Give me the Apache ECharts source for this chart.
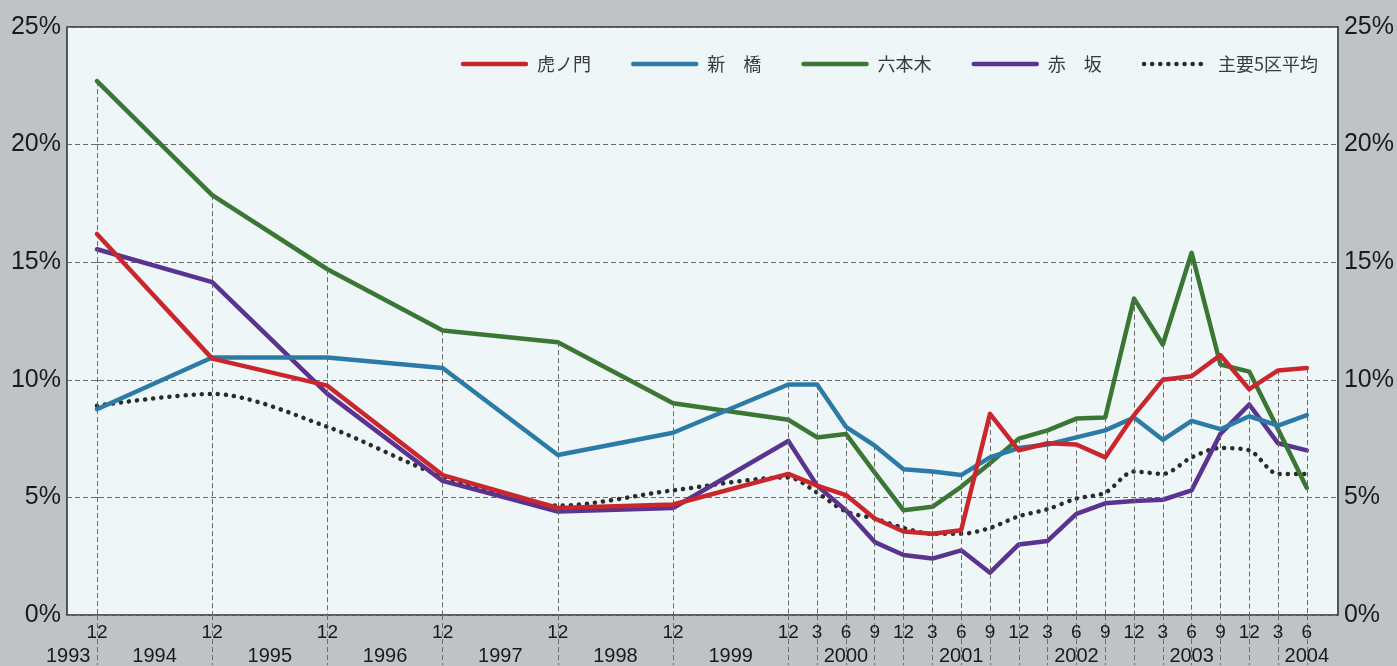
<!DOCTYPE html>
<html>
<head>
<meta charset="utf-8">
<script src="https://cdn.jsdelivr.net/npm/echarts@6/dist/echarts.min.js"></script>
<style>
  html, body { margin: 0; padding: 0; background: #bfc3c6; }
  #chart { width: 1397px; height: 666px; }
</style>
</head>
<body>
<div id="chart"></div>
<script>
// Survey dates: yearly until 1999-12, quarterly afterwards
const dates = ['1993-12','1994-12','1995-12','1996-12','1997-12','1998-12','1999-12',
  '2000-3','2000-6','2000-9','2000-12','2001-3','2001-6','2001-9','2001-12',
  '2002-3','2002-6','2002-9','2002-12','2003-3','2003-6','2003-9','2003-12',
  '2004-3','2004-6'];

// Vacancy rates (%)
const toranomon = [16.2, 10.9, 9.75, 5.95, 4.55, 4.7, 6.0, 5.5, 5.1, 4.1, 3.55, 3.45, 3.6, 8.55, 7.0,
  7.3, 7.25, 6.7, 8.5, 10.0, 10.15, 11.05, 9.6, 10.4, 10.5];
const shimbashi = [8.75, 10.95, 10.95, 10.5, 6.8, 7.75, 9.8, 9.8, 8.0, 7.2, 6.2, 6.1, 5.95, 6.7, 7.1,
  7.25, 7.55, 7.85, 8.4, 7.45, 8.25, 7.9, 8.45, 8.05, 8.5];
const roppongi = [22.7, 17.85, 14.7, 12.1, 11.6, 9.0, 8.3, 7.55, 7.7, 6.05, 4.45, 4.6, 5.45, 6.45, 7.5,
  7.85, 8.35, 8.4, 13.45, 11.5, 15.4, 10.65, 10.35, 7.9, 5.4];
const akasaka = [15.55, 14.15, 9.4, 5.7, 4.4, 4.55, 7.4, 5.5, 4.45, 3.1, 2.55, 2.4, 2.75, 1.8, 3.0,
  3.15, 4.3, 4.75, 4.85, 4.9, 5.3, 7.7, 8.95, 7.3, 7.0];
const average5 = [8.9, 9.4, 8.0, 5.9, 4.65, 5.3, 5.85, 5.2, 4.4, 4.1, 3.7, 3.45, 3.45, 3.7, 4.2,
  4.5, 4.95, 5.2, 6.1, 6.0, 6.7, 7.1, 7.0, 6.0, 6.0];

const years = [1993, 1994, 1995, 1996, 1997, 1998, 1999, 2000, 2001, 2002, 2003, 2004];

// position of a date on the quarter scale (0 = 1993-12)
function qIndex(d) {
  const p = d.split('-').map(Number);
  return (p[0] - 1993) * 4 + (p[1] - 12) / 3;
}
const xs = dates.map(qIndex);
const monthAt = {};
dates.forEach(function (d, i) { monthAt[xs[i]] = d.split('-')[1]; });

// year captions sit under June of each year (1993 squeezed in at the left edge)
const yearPos = years.map(function (y) { return Math.max((y - 1993) * 4 - 2, -1); });
const yearAt = {};
years.forEach(function (y, i) { yearAt[yearPos[i]] = String(y); });

// dashed drop line from the highest value at each survey date down to the axis
const allSeries = [toranomon, shimbashi, roppongi, akasaka, average5];
const dropLines = xs.map(function (x, i) {
  const top = Math.max.apply(null, allSeries.map(function (s) { return s[i]; }));
  return [{ coord: [x, top] }, { coord: [x, 0] }];
});

function pairs(vals) { return vals.map(function (v, i) { return [xs[i], v]; }); }

const X_MIN = -1.04, X_MAX = 43.08;
const labelFont = 'Liberation Sans, Arial, sans-serif';
const gridDash = { color: '#6a6a6a', width: 1, type: [5, 3] };

function lineSeries(name, vals, color, z) {
  return {
    name: name, type: 'line', data: pairs(vals), showSymbol: false, symbol: 'none',
    z: z, lineStyle: { color: color, width: 4.5, join: 'round', cap: 'round' },
    itemStyle: { color: color }, emphasis: { disabled: true }
  };
}

const chart = echarts.init(document.getElementById('chart'), null, { renderer: 'canvas' });
chart.setOption({
  animation: false,
  backgroundColor: '#bfc3c6',
  grid: {
    left: 67, right: 58, top: 27, bottom: 49,
    show: true, backgroundColor: '#eef6f8', borderColor: '#2a2a2a', borderWidth: 1.5
  },
  legend: {
    right: 74, top: 50, itemWidth: 63, itemHeight: 14, itemGap: 40,
    data: ['虎ノ門', '新　橋', '六本木', '赤　坂', '主要5区平均'],
    itemStyle: { opacity: 0 },
    lineStyle: { width: 4.5 },
    textStyle: { fontSize: 18, color: '#3a3a3a', fontFamily: 'Noto Sans CJK JP', padding: [0, 0, 0, 6] }
  },
  xAxis: [
    {
      type: 'value', min: X_MIN, max: X_MAX, position: 'bottom',
      axisLine: { show: false }, splitLine: { show: false },
      axisTick: { show: true, customValues: xs, length: 50, inside: false, lineStyle: gridDash },
      axisLabel: {
        customValues: xs, margin: 8, fontSize: 19, color: '#1a1a1a', fontFamily: labelFont,
        formatter: function (v) { return monthAt[v] || ''; }
      }
    },
    {
      type: 'value', min: X_MIN, max: X_MAX, position: 'bottom',
      axisLine: { show: false }, splitLine: { show: false }, axisTick: { show: false },
      axisLabel: {
        customValues: yearPos, margin: 31, fontSize: 20, color: '#1a1a1a', fontFamily: labelFont,
        showMinLabel: true, showMaxLabel: true,
        formatter: function (v) { return yearAt[v] || ''; }
      }
    }
  ],
  yAxis: [
    {
      type: 'value', min: 0, max: 25, interval: 5, position: 'left',
      axisLine: { show: false },
      axisTick: { show: true, length: 6, lineStyle: { color: '#6a6a6a' } },
      splitLine: { show: true, lineStyle: gridDash },
      axisLabel: { margin: 6, fontSize: 25, color: '#1a1a1a', fontFamily: labelFont, formatter: '{value}%' }
    },
    {
      type: 'value', min: 0, max: 25, interval: 5, position: 'right',
      axisLine: { show: false },
      axisTick: { show: true, length: 6, lineStyle: { color: '#6a6a6a' } },
      splitLine: { show: false },
      axisLabel: { margin: 6, fontSize: 25, color: '#1a1a1a', fontFamily: labelFont, formatter: '{value}%' }
    }
  ],
  series: [
    {
      name: 'drop', type: 'line', data: [], z: 1, silent: true,
      markLine: { symbol: 'none', silent: true, label: { show: false }, animation: false,
        lineStyle: gridDash, emphasis: { disabled: true }, data: dropLines }
    },
    Object.assign(lineSeries('主要5区平均', average5, '#2b2b2b', 2), {
      smooth: 0.3,
      lineStyle: { color: '#2b2b2b', width: 4.5, type: [0.1, 8], cap: 'round' }
    }),
    lineSeries('赤　坂', akasaka, '#5a3390', 3),
    lineSeries('六本木', roppongi, '#3a7735', 4),
    lineSeries('新　橋', shimbashi, '#2c7ba7', 5),
    lineSeries('虎ノ門', toranomon, '#c9272d', 6)
  ]
});
</script>
</body>
</html>
